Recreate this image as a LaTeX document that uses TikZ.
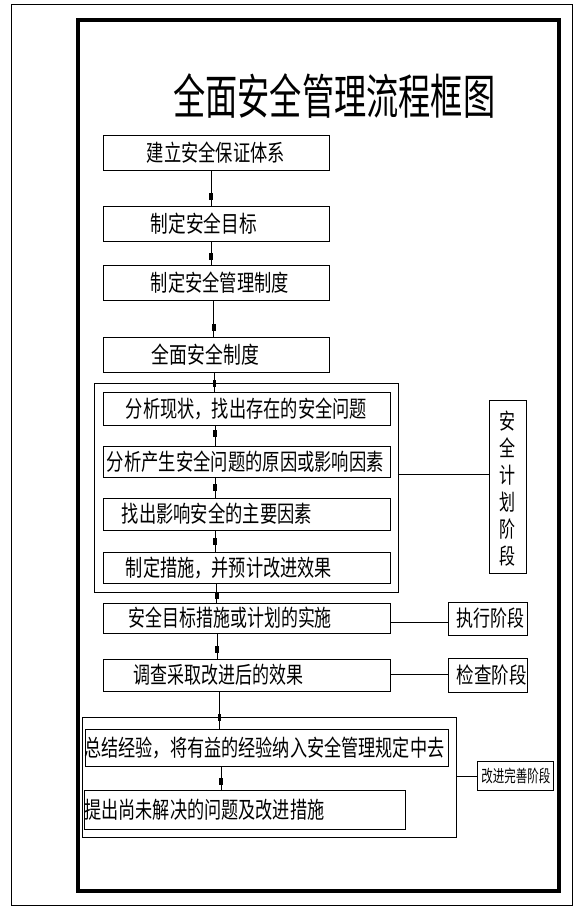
\documentclass[tikz,border=0pt]{standalone}
\usepackage{fontspec}
\usepackage{graphicx}
\newfontfamily\cjk{Noto Sans CJK SC}
\newcommand{\fw}[2]{\resizebox{#1pt}{\height}{#2}}
\begin{document}
\begin{tikzpicture}[x=1pt,y=-1pt,line width=0.8pt,
  bx/.style={draw,rectangle,inner sep=0pt},
  lbl/.style={anchor=west,inner sep=0pt,font=\cjk\fontsize{23}{23}\selectfont},
  slbl/.style={anchor=west,inner sep=0pt,font=\cjk\fontsize{22}{22}\selectfont},
  ttl/.style={anchor=west,inner sep=0pt,font=\cjk\fontsize{48}{48}\selectfont},
  tick/.style={fill=black,draw=none,inner sep=0pt,minimum width=3.6pt,minimum height=7pt},
  conn/.style={draw,line width=0.8pt}]
\useasboundingbox (0,0) rectangle (583,913);
% frames
\draw[line width=0.9pt] (11.5,4.5) rectangle (572,905);
\draw[line width=4pt] (78,20) rectangle (559,891);
% title
\node[ttl] (title) at (173,96.5) {\fw{322}{全面安全管理流程框图}};
% top boxes
\node[bx,minimum width=226pt,minimum height=35pt] (b1) at (216,152.5) {};
\node[bx,minimum width=226pt,minimum height=35pt] (b2) at (216,223.5) {};
\node[bx,minimum width=226pt,minimum height=35pt] (b3) at (216,282.5) {};
\node[bx,minimum width=226pt,minimum height=35pt] (b4) at (216,354.5) {};
\node[lbl] (t1) at (146.5,152.5) {\fw{138}{建立安全保证体系}};
\node[lbl] (t2) at (150.5,223.5) {\fw{106}{制定安全目标}};
\node[lbl] (t3) at (150.5,282.5) {\fw{138}{制定安全管理制度}};
\node[lbl] (t4) at (151.5,354.5) {\fw{107}{全面安全制度}};
% planning group
\node[bx,minimum width=304pt,minimum height=209pt] (grpP) at (246,487.5) {};
\node[bx,minimum width=287pt,minimum height=33pt] (ba) at (246.5,408.5) {};
\node[bx,minimum width=287pt,minimum height=31pt] (bb) at (246.5,461.5) {};
\node[bx,minimum width=287pt,minimum height=32pt] (bc) at (246.5,514) {};
\node[bx,minimum width=287pt,minimum height=31pt] (bd) at (246.5,567.5) {};
\node[lbl] (ta) at (125.5,408.5) {\fw{241}{分析现状，找出存在的安全问题}};
\node[lbl] (tb) at (106.5,461.5) {\fw{277}{分析产生安全问题的原因或影响因素}};
\node[lbl] (tc) at (121.5,514) {\fw{190}{找出影响安全的主要因素}};
\node[lbl] (td) at (125.5,567.5) {\fw{206}{制定措施，并预计改进效果}};
\node[bx,minimum width=37pt,minimum height=173pt] (sideP) at (507.5,486.5) {};
\node[align=center,inner sep=0pt,font=\cjk\fontsize{22}{27}\selectfont] (tP) at (507.5,489) {\fw{16}{安}\\\fw{16}{全}\\\fw{16}{计}\\\fw{16}{划}\\\fw{16}{阶}\\\fw{16}{段}};
% execution / check
\node[bx,minimum width=287pt,minimum height=30pt] (be) at (246.5,618) {};
\node[bx,minimum width=287pt,minimum height=32pt] (bf) at (246.5,675) {};
\node[lbl] (te) at (128.5,618) {\fw{203}{安全目标措施或计划的实施}};
\node[lbl] (tf) at (133.5,675) {\fw{170}{调查采取改进后的效果}};
\node[bx,minimum width=79pt,minimum height=33pt] (sideE) at (487.5,618.5) {};
\node[bx,minimum width=79pt,minimum height=34pt] (sideC) at (487.5,675) {};
\node[slbl] (tE) at (456.5,618.5) {\fw{68}{执行阶段}};
\node[slbl] (tC) at (456.5,675) {\fw{70}{检查阶段}};
% improvement group
\node[bx,minimum width=374pt,minimum height=120pt] (grpI) at (269,777) {};
\node[bx,minimum width=363pt,minimum height=37pt] (bg) at (266.5,747.5) {};
\node[bx,minimum width=321pt,minimum height=39pt] (bh) at (244.5,809.5) {};
\node[lbl] (tg) at (84,747.5) {\fw{360}{总结经验，将有益的经验纳入安全管理规定中去}};
\node[lbl] (th) at (84,809.5) {\fw{240}{提出尚未解决的问题及改进措施}};
\node[bx,minimum width=76pt,minimum height=29pt] (sideI) at (515,775.5) {};
\node[anchor=west,inner sep=0pt,font=\cjk\fontsize{17}{17}\selectfont] (tI) at (481,775.5) {\fw{69}{改进完善阶段}};
% vertical connectors
\coordinate (x1) at (211,0);
\coordinate (x3) at (213.7,0);
\coordinate (x4) at (214.3,0);
\coordinate (x5) at (215,0);
\coordinate (x8) at (216.7,0);
\coordinate (x9) at (217,0);
\coordinate (x10) at (219.5,0);
\coordinate (x11) at (221,0);
\draw[conn] (b1.south -| x1) -- node[tick,pos=0.75] (k1) {} (b2.north -| x1);
\draw[conn] (b2.south -| x1) -- node[tick,pos=0.67] (k2) {} (b3.north -| x1);
\draw[conn] (b3.south -| x3) -- node[tick,pos=0.76] (k3) {} (b4.north -| x3);
\draw[conn] (b4.south -| x4) -- node[tick,pos=0.6] (k4) {} (ba.north -| x4);
\draw[conn] (ba.south -| x5) -- node[tick,pos=0.38] (k5) {} (bb.north -| x5);
\draw[conn] (bb.south -| x5) -- node[tick,pos=0.52] (k6) {} (bc.north -| x5);
\draw[conn] (bc.south -| x5) -- node[tick,pos=0.5] (k7) {} (bd.north -| x5);
\draw[conn] (bd.south -| x8) -- node[tick,pos=0.65] (k8) {} (be.north -| x8);
\draw[conn] (be.south -| x9) -- node[tick,pos=0.65] (k9) {} (bf.north -| x9);
\draw[conn] (bf.south -| x10) -- node[tick,pos=0.71] (k10) {} (bg.north -| x10);
\draw[conn] (bg.south -| x11) -- node[tick,pos=0.63] (k11) {} (bh.north -| x11);
% side connectors
\coordinate (yP) at (0,474);
\coordinate (yE) at (0,622);
\coordinate (yC) at (0,674);
\coordinate (yI) at (0,776);
\draw[conn] (grpP.east |- yP) -- (sideP.west |- yP);
\draw[conn] (be.east |- yE) -- (sideE.west |- yE);
\draw[conn] (bf.east |- yC) -- (sideC.west |- yC);
\draw[conn] (grpI.east |- yI) -- (sideI.west |- yI);
\end{tikzpicture}
\end{document}
